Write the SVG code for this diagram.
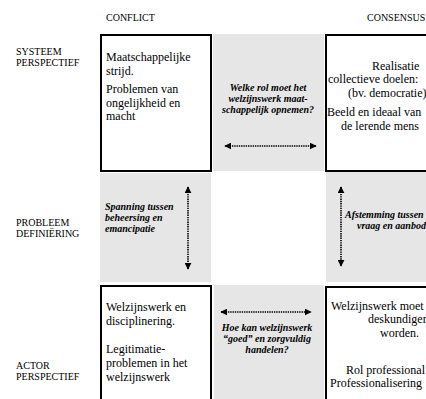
<svg xmlns="http://www.w3.org/2000/svg" width="426" height="399" viewBox="0 0 426 399">
<defs>
<marker id="ah" viewBox="0 0 10 10" refX="9" refY="5" markerWidth="7" markerHeight="7" markerUnits="userSpaceOnUse" orient="auto-start-reverse">
<path d="M0,0 L10,5 L0,10 Z" fill="#000"/>
</marker>
<style>
.hdr{font-size:10px;fill:#000}
.box{fill:#fff;stroke:#000;stroke-width:2}
.gray{fill:#e6e6e6}
.t{font-size:12px;fill:#000}
.q{font-size:10px;font-style:italic;font-weight:bold;fill:#000}
.arr{stroke:#000;stroke-width:1.6;stroke-dasharray:1.4 0.9;fill:none;marker-start:url(#ah);marker-end:url(#ah)}
</style>
</defs>
<rect width="426" height="399" fill="#fff"/>
<g font-family="Liberation Serif, Times New Roman, DejaVu Serif, serif">
<g id="headers">
<text class="hdr" x="106" y="21">CONFLICT</text>
<text class="hdr" x="367" y="21">CONSENSUS</text>
<text class="hdr" x="16" y="55">SYSTEEM</text>
<text class="hdr" x="16" y="66">PERSPECTIEF</text>
<text class="hdr" x="16" y="226">PROBLEEM</text>
<text class="hdr" x="16" y="237">DEFINIËRING</text>
<text class="hdr" x="16" y="369">ACTOR</text>
<text class="hdr" x="16" y="380">PERSPECTIEF</text>
</g>
<g id="systeem-conflict">
<rect class="box" x="101" y="35" width="110" height="136"/>
<text class="t" x="106" y="61">Maatschappelijke</text>
<text class="t" x="106" y="75">strijd.</text>
<text class="t" x="106" y="93">Problemen van</text>
<text class="t" x="106" y="106.5">ongelijkheid en</text>
<text class="t" x="106" y="120">macht</text>
</g>
<g id="systeem-vraag">
<rect class="gray" x="213" y="34" width="111" height="137"/>
<text class="q" text-anchor="middle" x="268" y="91">Welke rol moet het</text>
<text class="q" text-anchor="middle" x="268" y="102">welzijnswerk maat-</text>
<text class="q" text-anchor="middle" x="268" y="113">schappelijk opnemen?</text>
</g>
<g id="systeem-consensus">
<rect class="box" x="326" y="35" width="120" height="136"/>
<text class="t" x="372" y="69.5">Realisatie</text>
<text class="t" x="328" y="83">collectieve doelen:</text>
<text class="t" x="348" y="96.5">(bv. democratie)</text>
<text class="t" x="327" y="116">Beeld en ideaal van</text>
<text class="t" x="341" y="129.5">de lerende mens</text>
</g>
<g id="probleem-conflict">
<rect class="gray" x="100" y="173" width="111" height="109"/>
<text class="q" x="105" y="210">Spanning tussen</text>
<text class="q" x="105" y="221">beheersing en</text>
<text class="q" x="105" y="232">emancipatie</text>
</g>
<g id="probleem-consensus">
<rect class="gray" x="326" y="172" width="100" height="110"/>
<text class="q" x="345" y="218" font-size="9.7">Afstemming tussen</text>
<text class="q" x="357" y="229" font-size="9.7">vraag en aanbod</text>
</g>
<g id="actor-conflict">
<rect class="box" x="101" y="286" width="110" height="120"/>
<text class="t" x="106" y="311">Welzijnswerk en</text>
<text class="t" x="106" y="325">disciplinering.</text>
<text class="t" x="106" y="353">Legitimatie-</text>
<text class="t" x="106" y="367">problemen in het</text>
<text class="t" x="106" y="381">welzijnswerk</text>
</g>
<g id="actor-vraag">
<rect class="gray" x="214" y="285" width="110" height="114"/>
<text class="q" text-anchor="middle" x="267" y="331">Hoe kan welzijnswerk</text>
<text class="q" text-anchor="middle" x="267" y="342">“goed” en zorgvuldig</text>
<text class="q" text-anchor="middle" x="267" y="353">handelen?</text>
</g>
<g id="actor-consensus">
<rect class="box" x="326" y="287" width="120" height="120"/>
<text class="t" x="331" y="310">Welzijnswerk moet</text>
<text class="t" x="368" y="323.4">deskundiger</text>
<text class="t" x="380" y="336.8">worden.</text>
<text class="t" x="346" y="374">Rol professional</text>
<text class="t" x="330" y="387.4">Professionalisering</text>
</g>
</g>
<g id="connectors">
<line class="arr" x1="225" y1="146" x2="316" y2="146"/>
<line class="arr" x1="188" y1="187" x2="188" y2="269"/>
<line class="arr" x1="341" y1="187" x2="341" y2="266"/>
<line class="arr" x1="221" y1="312" x2="311" y2="312"/>
</g>
</svg>
